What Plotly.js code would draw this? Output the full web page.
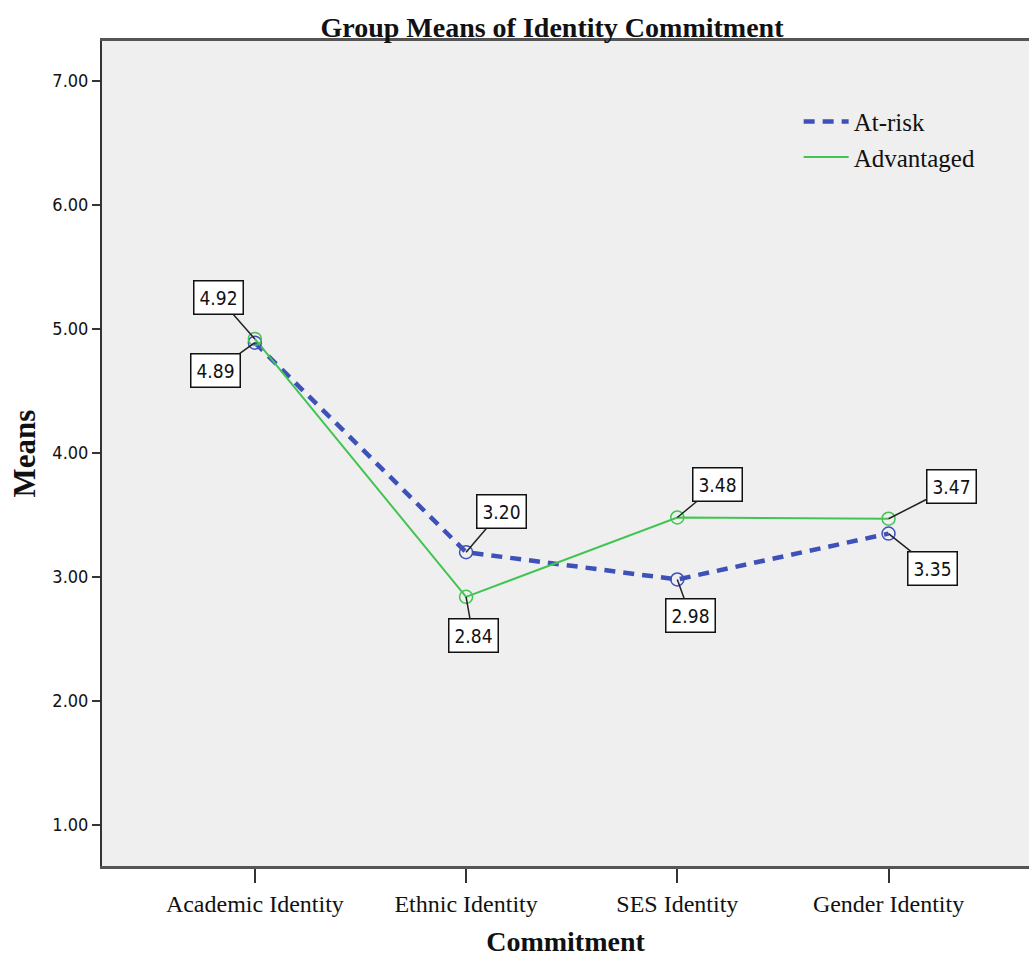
<!DOCTYPE html>
<html>
<head>
<meta charset="utf-8">
<script src="https://cdn.plot.ly/plotly-3.0.1.min.js"></script>
<style>html,body{margin:0;padding:0;background:#fff;overflow:hidden}</style>
</head>
<body>
<div id="chart" style="width:1029px;height:960px"></div>
<script>
const categories = ['Academic Identity', 'Ethnic Identity', 'SES Identity', 'Gender Identity'];
const atRisk = [4.89, 3.20, 2.98, 3.35];
const advantaged = [4.92, 2.84, 3.48, 3.47];
const yTicks = [1, 2, 3, 4, 5, 6, 7];

// label offsets (pixels) for the value boxes
const atRiskOffsets = [[-39, 28], [35, -41], [13, 36], [44, 35]];
const advOffsets = [[-36, -41], [7, 39], [40, -33], [63, -32]];

const blue = '#3d51b9';
const green = '#43c452';
const serif = 'Liberation Serif, Times New Roman, serif';
const sans = 'DejaVu Sans Condensed, DejaVu Sans, sans-serif';

const traces = [
  {
    x: categories, y: atRisk, name: 'At-risk', type: 'scatter', mode: 'lines',
    line: {color: blue, width: 4.5, dash: '11px,8px'}
  },
  {
    x: categories, y: advantaged, name: 'Advantaged', type: 'scatter', mode: 'lines',
    line: {color: green, width: 2}
  },
  {
    x: categories, y: atRisk, name: 'At-risk', type: 'scatter', mode: 'markers', showlegend: false,
    marker: {symbol: 'circle-open', size: 13, color: blue, line: {width: 1.5, color: blue}}
  },
  {
    x: categories, y: advantaged, name: 'Advantaged', type: 'scatter', mode: 'markers', showlegend: false,
    marker: {symbol: 'circle-open', size: 13, color: green, line: {width: 1.5, color: green}}
  }
];

function makeLabels(vals, offs) {
  return vals.map((v, i) => ({
    x: categories[i], y: v, xref: 'x', yref: 'y',
    text: v.toFixed(2), showarrow: true, arrowhead: 0, arrowwidth: 1.5, arrowcolor: '#222',
    ax: offs[i][0], ay: offs[i][1], standoff: 0,
    bgcolor: '#ffffff', bordercolor: '#111', borderwidth: 1.5, borderpad: 5,
    font: {family: sans, size: 19, color: '#111'}
  }));
}

const layout = {
  width: 1029, height: 960,
  margin: {l: 102, r: 0, t: 41, b: 94},
  paper_bgcolor: '#ffffff', plot_bgcolor: '#efefef',
  title: {
    text: '<b>Group Means of Identity Commitment</b>',
    font: {family: serif, size: 28, color: '#111'},
    x: 0.4854, xanchor: 'center', xref: 'paper', y: 1 - 27 / 960, yanchor: 'middle'
  },
  showlegend: true,
  legend: {
    x: 0.7515, xanchor: 'left', y: 0.93, yanchor: 'top',
    bgcolor: 'rgba(0,0,0,0)', itemwidth: 45,
    font: {family: serif, size: 25, color: '#111'}
  },
  xaxis: {
    type: 'category', range: [-0.7236, 3.665],
    showline: true, linecolor: '#555', linewidth: 3, mirror: true,
    showgrid: false, zeroline: false,
    ticks: 'outside', ticklen: 14, tickwidth: 2, tickcolor: '#333',
    tickfont: {family: serif, size: 24, color: '#111'},
    title: {text: '<b>Commitment</b>', standoff: 16,
      font: {family: serif, size: 28, color: '#111'}}
  },
  yaxis: {
    range: [0.669, 7.323], tickvals: yTicks, ticktext: yTicks.map(v => v.toFixed(2)),
    showline: true, linecolor: '#333', linewidth: 2,
    showgrid: false, zeroline: false,
    ticks: 'outside', ticklen: 8, tickwidth: 2, tickcolor: '#333',
    tickfont: {family: sans, size: 18, color: '#111'},
    title: {text: '<b>Means</b>', standoff: 8,
      font: {family: serif, size: 31, color: '#111'}}
  },
  annotations: makeLabels(atRisk, atRiskOffsets).concat(makeLabels(advantaged, advOffsets))
};

Plotly.newPlot('chart', traces, layout, {displayModeBar: false, staticPlot: true});
</script>
</body>
</html>
